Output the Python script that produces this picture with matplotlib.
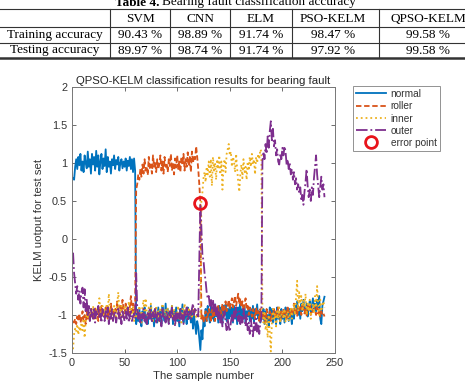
import numpy as np
import matplotlib
matplotlib.use('Agg')
import matplotlib.pyplot as plt

# Table 4 content
col_names = ['SVM', 'CNN', 'ELM', 'PSO-KELM', 'QPSO-KELM']
row_names = ['Training accuracy', 'Testing accuracy']
train_acc = ['90.43 %', '98.89 %', '91.74 %', '98.47 %', '99.58 %']
test_acc = ['89.97 %', '98.74 %', '91.74 %', '97.92 %', '99.58 %']

# KELM outputs for the 240 test samples
samples = np.arange(1, 241)

normal = [
    0.80, 0.78, 0.95, 1.05, 0.92, 1.08, 0.97, 1.12, 0.90, 1.02,
    0.88, 1.10, 1.00, 0.93, 1.15, 0.95, 1.05, 0.86, 1.12, 0.98,
    1.08, 0.90, 1.16, 0.95, 1.10, 0.85, 1.02, 1.12, 0.92, 1.06,
    0.96, 1.18, 0.88, 1.08, 0.95, 1.02, 0.86, 1.05, 0.97, 1.10,
    0.92, 1.04, 0.98, 1.08, 0.90, 1.00, 1.05, 0.93, 1.02, 0.95,
    1.06, 0.90, 1.03, 0.96, 1.08, 0.92, 1.05, 0.88, 1.06, 0.90,
    -1.12, -0.98, -1.08, -0.92, -1.05, -1.15, -0.95, -1.02, -0.90, -1.10,
    -1.00, -1.12, -0.95, -1.05, -0.88, -1.08, -0.98, -1.15, -0.92, -1.02,
    -1.10, -0.90, -1.05, -0.95, -1.12, -0.88, -1.00, -1.08, -0.85, -1.05,
    -0.92, -1.10, -0.96, -1.02, -0.88, -1.12, -0.95, -1.05, -0.90, -1.08,
    -0.98, -1.15, -0.92, -1.05, -0.86, -1.10, -0.95, -1.00, -1.12, -0.90,
    -1.05, -0.95, -1.10, -0.92, -1.18, -1.00, -1.12, -1.25, -1.08, -1.15,
    -1.30, -1.46, -1.20, -1.32, -1.05, -1.15, -0.92, -1.08, -0.88, -1.00,
    -1.10, -0.88, -1.05, -0.92, -1.08, -0.86, -1.02, -0.90, -1.10, -0.88,
    -1.05, -0.90, -1.12, -0.88, -1.00, -0.86, -1.08, -0.92, -1.05, -0.85,
    -1.02, -0.90, -1.10, -0.88, -1.05, -0.92, -1.12, -0.90, -1.00, -0.86,
    -1.08, -0.92, -1.05, -0.88, -1.10, -0.95, -1.02, -0.90, -1.08, -0.92,
    -1.05, -0.88, -1.10, -0.92, -1.00, -0.86, -1.05, -0.95, -1.10, -0.98,
    -1.05, -0.92, -1.12, -0.95, -1.08, -1.00, -1.15, -0.90, -1.05, -0.92,
    -1.10, -0.95, -1.02, -1.12, -0.90, -1.05, -0.98, -1.12, -0.92, -1.05,
    -0.95, -1.10, -0.90, -1.02, -0.95, -1.08, -0.92, -1.00, -1.12, -0.95,
    -1.05, -0.88, -0.98, -0.82, -1.00, -0.90, -1.05, -0.85, -0.95, -0.80,
    -0.92, -0.98, -0.85, -1.02, -0.90, -0.82, -0.96, -0.88, -0.78, -0.92,
    -0.85, -0.95, -0.80, -0.90, -0.75, -1.05, -1.12, -0.88, -0.82, -0.76,
]

roller = [
    -1.08, -1.10, -1.05, -1.12, -1.02, -1.08, -0.98, -1.10, -1.05, -0.95,
    -1.08, -1.00, -1.12, -0.95, -1.05, -0.98, -1.08, -0.92, -1.02, -0.96,
    -1.05, -0.90, -1.00, -0.95, -1.08, -0.92, -0.98, -0.88, -1.02, -0.94,
    -1.00, -0.90, -0.96, -1.05, -0.92, -1.00, -0.85, -0.98, -0.92, -1.02,
    -0.90, -0.95, -0.82, -0.98, -1.05, -0.88, -0.95, -0.80, -0.92, -0.98,
    -0.85, -0.95, -0.90, -1.02, -0.88, -0.75, -0.95, -0.85, -0.98, -0.92,
    0.65, 0.72, 0.85, 0.78, 0.92, 0.82, 0.98, 0.86, 1.05, 0.90,
    0.95, 0.84, 1.08, 0.92, 0.98, 0.86, 1.10, 0.95, 1.02, 0.88,
    1.05, 0.92, 0.98, 1.10, 0.90, 1.02, 0.86, 1.08, 0.95, 1.00,
    0.88, 1.05, 0.96, 1.12, 0.90, 1.00, 0.85, 1.06, 0.94, 1.10,
    0.92, 1.02, 0.88, 1.08, 0.98, 1.12, 0.90, 1.05, 0.95, 1.14,
    0.96, 1.08, 0.88, 1.15, 1.00, 1.10, 1.05, 1.22, 1.08, 0.92,
    0.72, 0.48, -1.05, -0.98, -1.10, -1.02, -0.95, -1.08, -1.00, -0.92,
    -0.98, -1.10, -0.92, -1.02, -0.95, -1.08, -0.90, -1.00, -0.88, -1.05,
    -0.92, -0.98, -0.85, -1.02, -0.90, -0.82, -0.95, -0.88, -0.80, -0.92,
    -0.85, -0.78, -0.90, -0.82, -0.75, -0.88, -0.80, -0.72, -0.86, -0.78,
    -0.90, -0.82, -0.95, -0.85, -0.78, -0.92, -0.88, -1.00, -0.90, -0.95,
    -1.02, -0.92, -0.98, -1.05, -0.90, -1.00, -0.95, -1.08, -0.92, -1.02,
    -0.95, -1.05, -0.98, -1.10, -0.92, -1.00, -1.05, -0.95, -1.08, -0.98,
    -1.00, -0.92, -1.05, -0.95, -1.02, -0.90, -1.00, -1.08, -0.95, -1.02,
    -0.92, -1.00, -0.95, -1.05, -0.88, -0.98, -1.02, -0.92, -1.00, -0.95,
    -0.85, -0.98, -0.92, -1.02, -0.88, -0.95, -0.90, -1.00, -0.85, -0.94,
    -0.98, -0.90, -1.02, -0.88, -0.95, -0.85, -1.00, -0.92, -0.96, -0.88,
    -0.94, -1.00, -0.90, -0.98, -0.92, -1.02, -0.95, -1.00, -0.98, -1.02,
]

inner = [
    -1.45, -1.25, -1.18, -1.22, -1.12, -1.26, -1.15, -1.22, -1.10, -1.20,
    -1.05, -1.30, -1.08, -0.98, -1.05, -0.95, -1.08, -0.92, -1.02, -0.88,
    -1.00, -0.95, -1.05, -0.90, -0.98, -0.78, -0.95, -1.02, -0.88, -1.00,
    -0.92, -1.05, -0.85, -0.98, -0.72, -0.95, -1.05, -0.90, -1.00, -0.88,
    -0.96, -1.05, -0.85, -0.70, -0.92, -1.00, -0.88, -1.05, -0.95, -0.90,
    -1.02, -0.88, -0.98, -0.82, -1.05, -0.92, -1.00, -0.90, -1.08, -0.95,
    -1.02, -0.92, -1.05, -0.88, -0.98, -1.10, -0.90, -0.80, -1.00, -0.78,
    -0.95, -1.05, -0.90, -1.00, -0.85, -0.98, -1.08, -0.92, -1.00, -0.88,
    -1.05, -0.95, -1.10, -0.90, -1.00, -0.85, -0.98, -1.05, -0.92, -1.02,
    -0.90, -1.08, -0.95, -1.00, -0.88, -1.05, -0.92, -1.12, -0.95, -1.00,
    -0.88, -1.05, -0.95, -1.10, -0.92, -1.00, -0.85, -1.02, -0.95, -1.08,
    -0.90, -1.00, -0.95, -1.05, -0.88, -1.00, -0.92, -1.05, -0.98, -1.00,
    -0.98, -1.02, 0.52, 0.62, 0.80, 0.88, 0.75, 0.95, 0.85, 1.02,
    0.82, 1.05, 0.70, 1.08, 0.90, 1.00, 0.78, 1.05, 0.92, 1.10,
    0.85, 1.02, 0.65, 0.95, 1.05, 0.88, 1.12, 1.18, 1.25, 1.10,
    1.15, 0.95, 1.08, 1.02, 0.88, 1.12, 0.92, 0.75, 0.62, 0.85,
    0.98, 0.80, 1.05, 0.88, 0.95, 0.78, 1.02, 0.90, 1.08, 0.95,
    1.12, 0.98, 1.05, 0.85, 1.08, 1.00, 1.12, 1.05, 1.18, 1.15,
    -1.00, -1.10, -0.95, -1.20, -1.05, -1.30, -1.00, -1.25, -1.48, -1.10,
    -0.92, -1.05, -0.98, -1.15, -0.95, -1.05, -0.90, -1.10, -1.00, -0.95,
    -1.05, -0.92, -1.10, -1.00, -0.95, -1.08, -0.98, -0.90, -1.05, -0.95,
    -0.85, -1.00, -0.75, -0.55, -0.95, -0.70, -0.85, -0.75, -0.95, -0.80,
    -0.90, -0.72, -1.00, -0.85, -0.95, -0.80, -1.05, -0.90, -0.85, -0.98,
    -0.75, -0.90, -0.62, -0.85, -1.00, -0.80, -0.95, -0.88, -0.82, -0.90,
]

outer = [
    -0.18, -0.45, -0.58, -0.72, -0.62, -0.80, -0.68, -0.85, -0.70, -0.64,
    -0.90, -0.66, -0.95, -0.80, -1.02, -0.88, -1.08, -0.90, -1.00, -1.05,
    -0.92, -1.10, -0.95, -1.02, -0.88, -1.05, -0.98, -1.10, -0.92, -1.00,
    -1.08, -0.95, -1.02, -0.90, -1.12, -0.98, -1.05, -0.92, -1.08, -1.00,
    -0.95, -1.10, -1.00, -0.92, -1.05, -0.98, -1.12, -0.95, -1.02, -1.08,
    -0.95, -1.05, -0.90, -1.10, -1.00, -0.95, -1.08, -1.02, -0.98, -1.05,
    -0.45, -0.90, -1.05, -0.95, -1.10, -0.98, -1.05, -0.92, -1.08, -1.00,
    -1.12, -0.95, -1.05, -0.90, -1.02, -1.10, -0.96, -1.05, -0.92, -1.12,
    -1.00, -0.95, -1.08, -0.98, -1.15, -0.92, -1.05, -1.00, -1.10, -0.95,
    -1.02, -1.12, -0.95, -1.05, -0.90, -1.08, -1.00, -1.15, -0.95, -1.05,
    -0.98, -1.10, -0.92, -1.05, -1.00, -1.12, -0.95, -1.02, -0.90, -1.08,
    -1.00, -0.95, -1.05, -0.92, -0.85, -1.00, -0.90, -0.95, -1.00, -1.02,
    -0.30, 0.45, 0.15, -0.22, -0.28, -0.45, -0.55, -0.70, -0.78, -0.75,
    -0.88, -0.78, -0.92, -0.80, -0.95, -0.85, -1.00, -0.90, -1.05, -0.95,
    -1.10, -1.00, -1.15, -1.05, -0.95, -1.10, -1.20, -1.05, -1.15, -1.22,
    -1.10, -1.00, -1.10, -0.95, -1.05, -0.90, -1.00, -1.08, -0.95, -1.12,
    -1.00, -1.10, -0.92, -1.05, -1.15, -1.00, -1.20, -1.10, -1.25, -1.05,
    -1.18, -1.28, -1.10, -1.20, -1.05, -1.22, -1.12, -1.25, -1.10, -1.05,
    1.02, 1.15, 1.05, 1.25, 1.12, 1.35, 1.20, 1.42, 1.55, 1.30,
    1.45, 1.22, 1.30, 1.10, 1.18, 1.02, 0.98, 1.12, 1.05, 1.20,
    1.10, 1.22, 1.15, 0.98, 1.05, 0.92, 1.00, 0.85, 0.92, 0.78,
    0.88, 0.72, 0.80, 0.65, 0.72, 0.60, 0.68, 0.50, 0.58, 0.45,
    0.62, 0.75, 0.92, 0.70, 0.55, 0.65, 0.50, 0.68, 0.58, 0.80,
    0.95, 1.10, 0.85, 0.70, 0.55, 0.68, 0.82, 0.65, 0.72, 0.55,
]

error_x = [122]
error_y = [0.48]

fig = plt.figure(figsize=(4.65, 3.86), dpi=100)

# --- the table (drawn in pixel units of the top strip) ---
tab = fig.add_axes([0, 1 - 62 / 386, 1, 62 / 386])
tab.set_xlim(0, 465)
tab.set_ylim(62, 0)
tab.axis('off')
serif = 'Liberation Serif'
# caption is cut by the top edge in the original page scan
tab.text(115, 5.5, 'Table 4.', family=serif, weight='bold', fontsize=9.5, va='baseline')
tab.text(162, 5.5, 'Bearing fault classification accuracy', family=serif,
         fontsize=9.5, va='baseline')
for yy, lw in [(9, 0.8), (27, 0.8), (43, 0.8), (58, 1.8)]:
    tab.plot([0, 465], [yy, yy], color='#333333', lw=lw, clip_on=False)
for xx in [110, 170, 230, 292, 379]:
    tab.plot([xx, xx], [9, 57], color='#333333', lw=0.8)
col_x = [140, 200, 261, 333, 428]
for cx, name, tr, te in zip(col_x, col_names, train_acc, test_acc):
    tab.text(cx, 18.5, name, family=serif, fontsize=9.5, ha='center', va='center')
    tab.text(cx, 35, tr, family=serif, fontsize=9.5, ha='center', va='center')
    tab.text(cx, 50.5, te, family=serif, fontsize=9.5, ha='center', va='center')
tab.text(55, 35, row_names[0], family=serif, fontsize=9.5, ha='center', va='center')
tab.text(55, 50.5, row_names[1], family=serif, fontsize=9.5, ha='center', va='center')

# --- the MATLAB style plot ---
sans = 'Liberation Sans'
ax = fig.add_axes([72 / 465, 1 - 353 / 386, 263 / 465, 266 / 386])
lw = 1.3
ax.plot(samples, normal, color='#0072BD', ls='-', lw=lw, label='normal')
ax.plot(samples, roller, color='#D95319', ls='--', lw=lw, label='roller', dashes=(3, 1.5))
ax.plot(samples, inner, color='#EDB120', ls=':', lw=lw, label='inner')
ax.plot(samples, outer, color='#7E2F8E', ls='-.', lw=lw, label='outer')
ax.plot(error_x, error_y, 'o', color='#E8141B', mfc='none', mew=2, ms=8.5,
        label='error point')

ax.set_xlim(0, 250)
ax.set_ylim(-1.5, 2)
ax.set_xticks([0, 50, 100, 150, 200, 250])
ax.set_yticks([-1.5, -1, -0.5, 0, 0.5, 1, 1.5, 2])
ax.set_yticklabels(['-1.5', '-1', '-0.5', '0', '0.5', '1', '1.5', '2'])
ax.tick_params(direction='in', top=True, right=True, length=3, width=0.6,
               colors='#555555', labelcolor='#333333', labelsize=7.8)
for lab in ax.get_xticklabels() + ax.get_yticklabels():
    lab.set_family(sans)
for sp in ax.spines.values():
    sp.set_color('#777777')
    sp.set_linewidth(0.7)

ax.set_title('QPSO-KELM classification results for bearing fault', family=sans,
             fontsize=8.2, color='#222222', pad=2)
ax.set_xlabel('The sample number', family=sans, fontsize=8.2, color='#333333', labelpad=2)
ax.set_ylabel('KELM uotput for test set', family=sans, fontsize=8.2, color='#333333', labelpad=3)

leg = fig.legend(loc='upper left', bbox_to_anchor=(353 / 465, 1 - 86 / 386),
                 prop={'family': sans, 'size': 7.3}, frameon=True, fancybox=False,
                 handlelength=3.0, handletextpad=0.4, borderpad=0.3,
                 labelspacing=0.22, borderaxespad=0)
leg.get_frame().set_edgecolor('#777777')
leg.get_frame().set_linewidth(0.7)
for t in leg.get_texts():
    t.set_color('#333333')

fig.savefig('out.png', dpi=100)
